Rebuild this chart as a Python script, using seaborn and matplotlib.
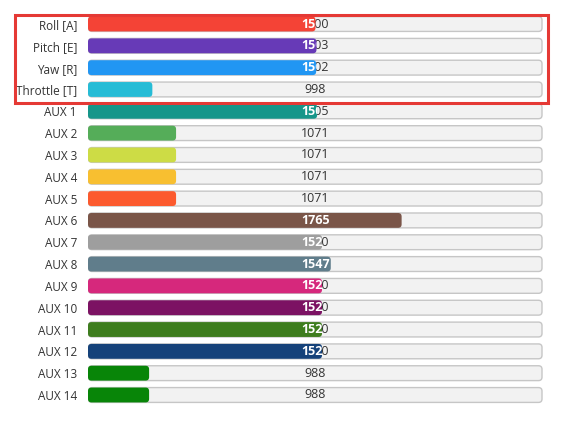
import matplotlib
matplotlib.use("Agg")
import matplotlib.pyplot as plt
import matplotlib.transforms as mtransforms
from matplotlib.patches import FancyBboxPatch, Rectangle
import seaborn as sns
import pandas as pd

# ---- data ----
channels = ["Roll [A]", "Pitch [E]", "Yaw [R]", "Throttle [T]",
            "AUX 1", "AUX 2", "AUX 3", "AUX 4", "AUX 5", "AUX 6", "AUX 7",
            "AUX 8", "AUX 9", "AUX 10", "AUX 11", "AUX 12", "AUX 13", "AUX 14"]
values = [1500, 1503, 1502, 998,
          1505, 1071, 1071, 1071, 1071, 1765, 1520,
          1547, 1520, 1520, 1520, 1520, 988, 988]
colors = ["#f44336", "#673ab7", "#2196f3", "#26bcd6",
          "#16968a", "#55ad59", "#cddc45", "#f8bf30", "#fc5a2e", "#7a5548", "#9e9e9e",
          "#607d8b", "#d6287c", "#7c1263", "#3e7d1e", "#15427a", "#088508", "#088508"]
range_min, range_max = 800, 2200

sns.set_theme(style="white")
plt.rcParams["font.family"] = ["Open Sans", "DejaVu Sans"]

W, H = 569, 423
fig = plt.figure(figsize=(W / 100, H / 100), dpi=100)
fig.patch.set_facecolor("white")
ax = fig.add_axes([88 / W, 0, 455 / W, 1])

df = pd.DataFrame({"channel": channels, "value": values,
                   "full": [range_max] * len(values)})

bar_w = 0.68
# track
sns.barplot(data=df, x="full", y="channel", color="#f2f2f2", width=bar_w,
            orient="h", ax=ax, saturation=1)
n_track = len(ax.patches)
# value bars
sns.barplot(data=df, x="value", y="channel", hue="channel", palette=colors,
            legend=False, width=bar_w, orient="h", ax=ax, saturation=1)

ax.set_xlim(range_min, range_max)
ax.set_ylim(len(channels) - 1 + (H - 395) / 21.82, -24 / 21.82)

# aspect for rounded corners
px_x = (range_max - range_min) / 455.0
px_y = (ax.get_ylim()[0] - ax.get_ylim()[1]) / H
aspect = px_y / px_x
rad = 3.5 * px_x

patches = list(ax.patches)
for p in patches:
    p.remove()

track_patches = patches[:n_track]
bar_patches = patches[n_track:]

for p in track_patches:
    x1 = range_max - 0.5 * px_x
    fb = FancyBboxPatch((range_min + 0.5 * px_x, p.get_y()), x1 - range_min - px_x, p.get_height(),
                        boxstyle=f"round,pad=0,rounding_size={rad}",
                        mutation_aspect=aspect, facecolor="#f2f2f2",
                        edgecolor="#c6c6c6", linewidth=1.0, zorder=1)
    ax.add_patch(fb)

center_x = (range_min + range_max) / 2
order = {round(p.get_y() + p.get_height() / 2): p for p in bar_patches}
for i, (v, c) in enumerate(zip(values, colors)):
    p = order[i]
    x0 = max(p.get_x(), range_min)
    x1 = p.get_x() + p.get_width()
    y0 = p.get_y()
    h = p.get_height()
    ax.text(center_x, i, str(v), ha="center", va="center", fontsize=9,
            color="#333333", zorder=2)
    fb = FancyBboxPatch((x0, y0), x1 - x0, h,
                        boxstyle=f"round,pad=0,rounding_size={rad}",
                        mutation_aspect=aspect, facecolor=c, edgecolor="none",
                        zorder=3)
    ax.add_patch(fb)
    t = ax.text(center_x, i, str(v), ha="center", va="center", fontsize=9,
                color="white", fontweight="bold", zorder=4, clip_on=True)
    t.set_clip_box(mtransforms.TransformedBbox(
        mtransforms.Bbox.from_extents(x0, y0, x1, y0 + h), ax.transData))

sns.despine(ax=ax, left=True, bottom=True)
ax.set_xlabel("")
ax.set_ylabel("")
ax.set_xticks([])
ax.tick_params(axis="y", length=0, pad=8.0, labelsize=8.5, labelcolor="#333333")
ax.set_facecolor("none")

# highlight frame around the stick channels
trans = mtransforms.blended_transform_factory(fig.transFigure, ax.transData)
frame = Rectangle((14.5 / W, -0.42), (547.5 - 14.5) / W, 4.02,
                  transform=trans, fill=False, edgecolor="#e53935",
                  linewidth=2.2, clip_on=False, zorder=10)
fig.add_artist(frame)

fig.savefig("out.png", dpi=100, facecolor="white")
